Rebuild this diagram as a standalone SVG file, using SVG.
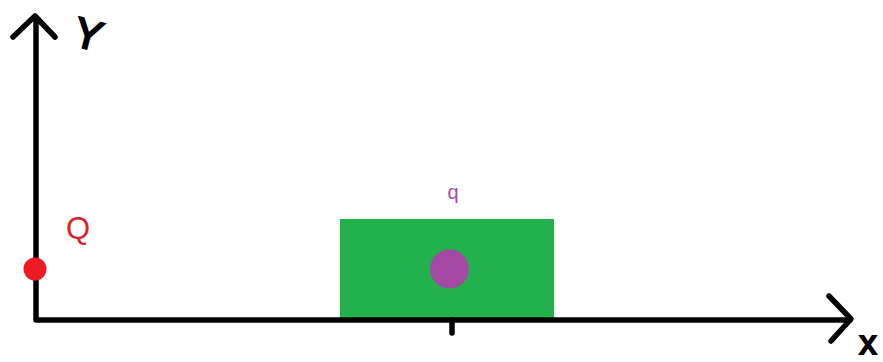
<svg xmlns="http://www.w3.org/2000/svg" width="883" height="362" viewBox="0 0 883 362">
<style>
.ax{fill:none;stroke:#000;stroke-width:5.5;stroke-linecap:round;stroke-linejoin:round}
.lbl{font-family:"Liberation Sans",Arial,sans-serif}
</style>
<rect width="883" height="362" fill="#fff"/>
<g id="box"><rect x="340" y="219" width="214" height="100" fill="#22b14c"/></g>
<g id="connectors">
<path class="ax" d="M36,18 V320 H850"/>
<path class="ax" d="M13,37 L35,16 L55,37"/>
<path class="ax" d="M829,296 L851,319 L831,341"/>
<path class="ax" d="M452,320 V333"/>
</g>
<g id="axis-y-label"><text class="lbl" x="89" y="49" font-size="42" text-anchor="middle" transform="rotate(15 89 32)" fill="#000" stroke="#000" stroke-width="2">Y</text></g>
<g id="axis-x-label"><text class="lbl" x="868" y="354" font-size="34" text-anchor="middle" fill="#000" stroke="#000" stroke-width="2">x</text></g>
<g id="charge-Q"><circle cx="35" cy="269" r="11.5" fill="#ed1c24"/><text class="lbl" x="78" y="239" font-size="31" text-anchor="middle" fill="#d9232d">Q</text></g>
<g id="charge-q"><circle cx="449.5" cy="269" r="19.5" fill="#a349a4"/><text class="lbl" x="453" y="199" font-size="20" text-anchor="middle" fill="#a349a4">q</text></g>
</svg>
